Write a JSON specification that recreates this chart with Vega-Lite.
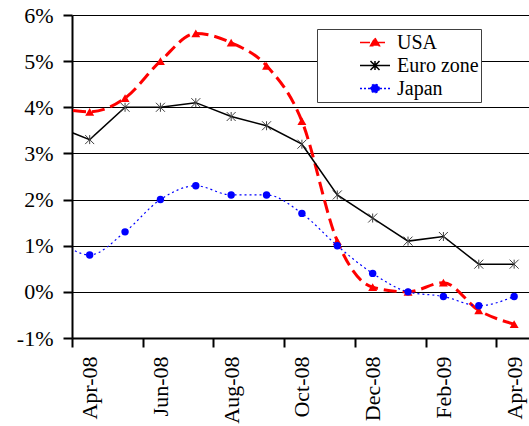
{
  "$schema": "https://vega.github.io/schema/vega-lite/v6.json",
  "width": 457,
  "height": 323,
  "autosize": "none",
  "padding": {"left": 72, "top": 15, "right": 0, "bottom": 88},
  "background": "white",
  "config": {"view": {"stroke": null}, "font": "Liberation Serif"},
  "data": {"values": [
    {"series": "USA", "t": -1, "month": "Mar-08", "value": 4.0},
    {"series": "USA", "t": 0, "month": "Apr-08", "value": 3.9},
    {"series": "USA", "t": 1, "month": "May-08", "value": 4.2},
    {"series": "USA", "t": 2, "month": "Jun-08", "value": 5.0},
    {"series": "USA", "t": 3, "month": "Jul-08", "value": 5.6},
    {"series": "USA", "t": 4, "month": "Aug-08", "value": 5.4},
    {"series": "USA", "t": 5, "month": "Sep-08", "value": 4.9},
    {"series": "USA", "t": 6, "month": "Oct-08", "value": 3.7},
    {"series": "USA", "t": 7, "month": "Nov-08", "value": 1.1},
    {"series": "USA", "t": 8, "month": "Dec-08", "value": 0.1},
    {"series": "USA", "t": 9, "month": "Jan-09", "value": 0.0},
    {"series": "USA", "t": 10, "month": "Feb-09", "value": 0.2},
    {"series": "USA", "t": 11, "month": "Mar-09", "value": -0.4},
    {"series": "USA", "t": 12, "month": "Apr-09", "value": -0.7},
    {"series": "Euro zone", "t": -1, "month": "Mar-08", "value": 3.6},
    {"series": "Euro zone", "t": 0, "month": "Apr-08", "value": 3.3},
    {"series": "Euro zone", "t": 1, "month": "May-08", "value": 4.0},
    {"series": "Euro zone", "t": 2, "month": "Jun-08", "value": 4.0},
    {"series": "Euro zone", "t": 3, "month": "Jul-08", "value": 4.1},
    {"series": "Euro zone", "t": 4, "month": "Aug-08", "value": 3.8},
    {"series": "Euro zone", "t": 5, "month": "Sep-08", "value": 3.6},
    {"series": "Euro zone", "t": 6, "month": "Oct-08", "value": 3.2},
    {"series": "Euro zone", "t": 7, "month": "Nov-08", "value": 2.1},
    {"series": "Euro zone", "t": 8, "month": "Dec-08", "value": 1.6},
    {"series": "Euro zone", "t": 9, "month": "Jan-09", "value": 1.1},
    {"series": "Euro zone", "t": 10, "month": "Feb-09", "value": 1.2},
    {"series": "Euro zone", "t": 11, "month": "Mar-09", "value": 0.6},
    {"series": "Euro zone", "t": 12, "month": "Apr-09", "value": 0.6},
    {"series": "Japan", "t": -1, "month": "Mar-08", "value": 1.2},
    {"series": "Japan", "t": 0, "month": "Apr-08", "value": 0.8},
    {"series": "Japan", "t": 1, "month": "May-08", "value": 1.3},
    {"series": "Japan", "t": 2, "month": "Jun-08", "value": 2.0},
    {"series": "Japan", "t": 3, "month": "Jul-08", "value": 2.3},
    {"series": "Japan", "t": 4, "month": "Aug-08", "value": 2.1},
    {"series": "Japan", "t": 5, "month": "Sep-08", "value": 2.1},
    {"series": "Japan", "t": 6, "month": "Oct-08", "value": 1.7},
    {"series": "Japan", "t": 7, "month": "Nov-08", "value": 1.0},
    {"series": "Japan", "t": 8, "month": "Dec-08", "value": 0.4},
    {"series": "Japan", "t": 9, "month": "Jan-09", "value": 0.0},
    {"series": "Japan", "t": 10, "month": "Feb-09", "value": -0.1},
    {"series": "Japan", "t": 11, "month": "Mar-09", "value": -0.3},
    {"series": "Japan", "t": 12, "month": "Apr-09", "value": -0.1}
  ]},
  "encoding": {
    "x": {
      "field": "t", "type": "quantitative",
      "scale": {"domain": [-0.5, 12.42], "nice": false, "zero": false},
      "axis": {
        "title": null,
        "values": [0, 2, 4, 6, 8, 10, 12],
        "labelExpr": "['Apr-08','May-08','Jun-08','Jul-08','Aug-08','Sep-08','Oct-08','Nov-08','Dec-08','Jan-09','Feb-09','Mar-09','Apr-09'][datum.value]",
        "grid": false,
        "tickOffset": -17.7,
        "labelOffset": 17.7,
        "tickSize": 9,
        "tickWidth": 2,
        "tickColor": "black",
        "domainColor": "black",
        "domainWidth": 2,
        "labelAngle": -90,
        "labelAlign": "right",
        "labelBaseline": "middle",
        "labelPadding": 9,
        "labelFont": "Liberation Serif",
        "labelFontSize": 22,
        "labelColor": "black",
        "labelOverlap": false,
        "labelFlush": false,
        "labelBound": false
      }
    },
    "y": {
      "field": "value", "type": "quantitative",
      "scale": {"domain": [-1, 6], "nice": false, "zero": false},
      "axis": {
        "title": null,
        "values": [-1, 0, 1, 2, 3, 4, 5, 6],
        "labelExpr": "datum.value + '%'",
        "grid": true,
        "gridColor": "black",
        "gridWidth": 1,
        "gridOpacity": 1,
        "tickSize": 9,
        "tickWidth": 2,
        "tickColor": "black",
        "domainColor": "black",
        "domainWidth": 2,
        "labelPadding": 10,
        "labelFont": "Liberation Serif",
        "labelFontSize": 22,
        "labelColor": "black",
        "labelOverlap": false,
        "labelFlush": false,
        "labelBound": false
      }
    }
  },
  "layer": [
    {
      "transform": [{"filter": "datum.series === 'USA'"}],
      "mark": {"type": "line", "color": "#ff0000", "strokeWidth": 3, "strokeDash": [13, 6], "interpolate": "monotone", "clip": true}
    },
    {
      "transform": [{"filter": "datum.series === 'USA'"}],
      "mark": {"type": "point", "shape": "triangle-up", "filled": true, "color": "#ff0000", "size": 80, "opacity": 1, "clip": true}
    },
    {
      "transform": [{"filter": "datum.series === 'Euro zone'"}],
      "mark": {"type": "line", "color": "#000000", "strokeWidth": 1.5, "clip": true}
    },
    {
      "transform": [{"filter": "datum.series === 'Euro zone'"}],
      "mark": {"type": "point", "shape": "M0,-1L0,1M-1,-1L1,1M-1,1L1,-1", "filled": false, "stroke": "#404040", "strokeWidth": 1, "size": 81, "opacity": 1, "clip": true}
    },
    {
      "transform": [{"filter": "datum.series === 'Japan'"}],
      "mark": {"type": "line", "color": "#0000ff", "strokeWidth": 1.2, "strokeDash": [2, 3], "interpolate": "monotone", "clip": true}
    },
    {
      "transform": [{"filter": "datum.series === 'Japan'"}],
      "mark": {"type": "point", "shape": "circle", "filled": true, "color": "#0000ff", "size": 55, "opacity": 1, "clip": true}
    },
    {
      "transform": [{"filter": "false"}],
      "mark": {"type": "point", "filled": true, "opacity": 1},
      "encoding": {
        "shape": {
          "field": "series", "type": "nominal",
          "scale": {"domain": ["USA", "Euro zone", "Japan"], "range": [
            "M-1,0L1,0M0,-0.3L0.3,0.22L-0.3,0.22Z",
            "M-1,0L1,0M0,-0.3L0,0.3M-0.3,-0.3L0.3,0.3M-0.3,0.3L0.3,-0.3",
            "M-1,0L1,0M0.28,0A0.28,0.28 0 1,1 -0.28,0A0.28,0.28 0 1,1 0.28,0Z"
          ]},
          "legend": {
            "title": null,
            "orient": "none",
            "legendX": 245,
            "legendY": 14,
            "padding": 2,
            "fillColor": "white",
            "strokeColor": "#404040",
            "labelFont": "Liberation Serif",
            "labelFontSize": 20,
            "labelColor": "black",
            "labelExpr": "datum.label + '\u00a0\u00a0\u00a0\u00a0\u00a0\u00a0\u00a0\u00a0'",
            "symbolSize": 900,
            "labelOffset": 6,
            "symbolOffset": 40,
            "clipHeight": 23,
            "rowPadding": 0,
            "offset": 0
          }
        },
        "fill": {"field": "series", "type": "nominal", "scale": {"domain": ["USA", "Euro zone", "Japan"], "range": ["#ff0000", "#000000", "#0000ff"]}},
        "stroke": {"field": "series", "type": "nominal", "scale": {"domain": ["USA", "Euro zone", "Japan"], "range": ["#ff0000", "#000000", "#0000ff"]}},
        "strokeDash": {"field": "series", "type": "nominal", "scale": {"domain": ["USA", "Euro zone", "Japan"], "range": [[10, 5], [1, 0], [2, 2]]}}
      }
    }
  ]
}
